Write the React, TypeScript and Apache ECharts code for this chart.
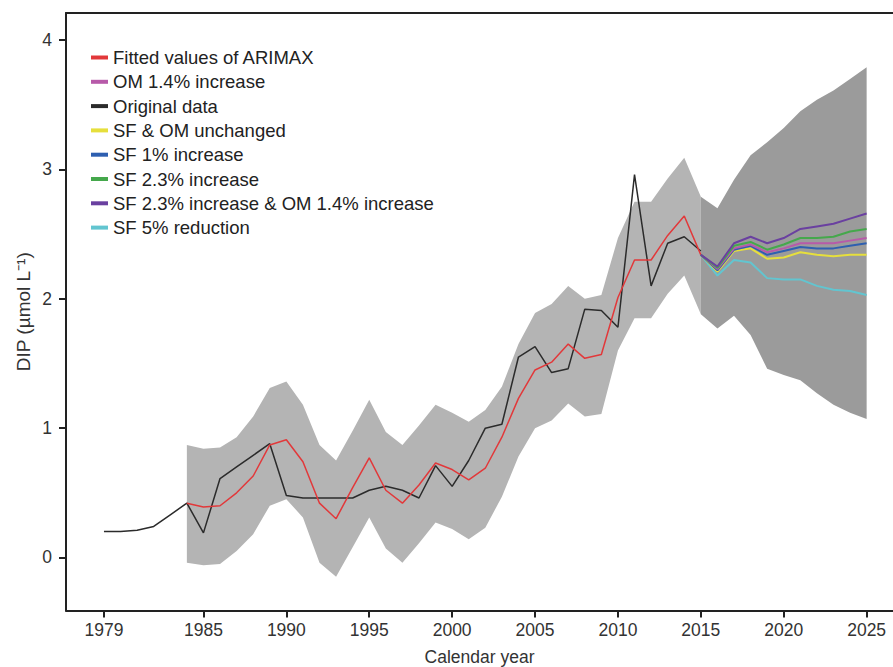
import React, { useEffect, useRef } from "react";
import * as echarts from "echarts";

const originalYears = [1979, 1980, 1981, 1982, 1983, 1984, 1985, 1986, 1987, 1988, 1989, 1990, 1991, 1992, 1993, 1994, 1995, 1996, 1997, 1998, 1999, 2000, 2001, 2002, 2003, 2004, 2005, 2006, 2007, 2008, 2009, 2010, 2011, 2012, 2013, 2014, 2015];
const originalData = [0.20, 0.20, 0.21, 0.24, 0.33, 0.42, 0.19, 0.61, 0.70, 0.79, 0.88, 0.48, 0.46, 0.46, 0.46, 0.46, 0.52, 0.55, 0.52, 0.46, 0.71, 0.55, 0.75, 1.00, 1.03, 1.55, 1.63, 1.43, 1.46, 1.92, 1.91, 1.78, 2.96, 2.10, 2.43, 2.48, 2.37];

const fittedYears = [1984, 1985, 1986, 1987, 1988, 1989, 1990, 1991, 1992, 1993, 1994, 1995, 1996, 1997, 1998, 1999, 2000, 2001, 2002, 2003, 2004, 2005, 2006, 2007, 2008, 2009, 2010, 2011, 2012, 2013, 2014, 2015];
const fittedData = [0.42, 0.39, 0.40, 0.50, 0.63, 0.87, 0.91, 0.74, 0.42, 0.30, 0.54, 0.77, 0.52, 0.42, 0.56, 0.73, 0.68, 0.60, 0.69, 0.93, 1.23, 1.45, 1.51, 1.65, 1.54, 1.57, 2.01, 2.30, 2.30, 2.49, 2.64, 2.34];
const fittedUpper = [0.87, 0.84, 0.85, 0.93, 1.09, 1.31, 1.36, 1.18, 0.87, 0.75, 0.98, 1.22, 0.97, 0.87, 1.02, 1.18, 1.12, 1.05, 1.14, 1.32, 1.65, 1.89, 1.96, 2.10, 2.00, 2.03, 2.47, 2.75, 2.75, 2.93, 3.09, 2.79];
const fittedLower = [-0.04, -0.06, -0.05, 0.05, 0.18, 0.40, 0.45, 0.31, -0.04, -0.15, 0.08, 0.31, 0.07, -0.04, 0.11, 0.27, 0.22, 0.14, 0.23, 0.47, 0.78, 1.00, 1.06, 1.19, 1.09, 1.11, 1.60, 1.85, 1.85, 2.04, 2.18, 1.88];

const forecastYears = [2015, 2016, 2017, 2018, 2019, 2020, 2021, 2022, 2023, 2024, 2025];
const forecastUpper = [2.79, 2.70, 2.92, 3.11, 3.21, 3.32, 3.45, 3.54, 3.61, 3.70, 3.79];
const forecastLower = [1.88, 1.77, 1.87, 1.72, 1.46, 1.41, 1.37, 1.27, 1.18, 1.12, 1.07];

const om14 = [2.34, 2.23, 2.39, 2.42, 2.36, 2.39, 2.43, 2.43, 2.43, 2.45, 2.47];
const unchanged = [2.34, 2.21, 2.37, 2.39, 2.31, 2.32, 2.36, 2.34, 2.33, 2.34, 2.34];
const sf1 = [2.34, 2.22, 2.38, 2.41, 2.34, 2.37, 2.40, 2.39, 2.39, 2.41, 2.43];
const sf23 = [2.34, 2.24, 2.41, 2.44, 2.38, 2.42, 2.47, 2.47, 2.48, 2.52, 2.54];
const sf23om14 = [2.34, 2.25, 2.43, 2.48, 2.43, 2.47, 2.54, 2.56, 2.58, 2.62, 2.66];
const sf5red = [2.34, 2.18, 2.30, 2.28, 2.16, 2.15, 2.15, 2.10, 2.07, 2.06, 2.03];

const xTicks = [1979, 1985, 1990, 1995, 2000, 2005, 2010, 2015, 2020, 2025];
const yTicks = [0, 1, 2, 3, 4];

const legendNames = [
  "Fitted values of ARIMAX",
  "OM 1.4% increase",
  "Original data",
  "SF & OM unchanged",
  "SF 1% increase",
  "SF 2.3% increase",
  "SF 2.3% increase & OM 1.4% increase",
  "SF 5% reduction",
];

const FONT = "'Liberation Sans', Arial, Helvetica, sans-serif";

function pairs(xs: number[], ys: number[]) {
  return xs.map((x, i) => [x, ys[i]]);
}

function bandSeries(name: string, xs: number[], lo: number[], hi: number[], fill: string) {
  const data = xs.map((x, i) => [x, lo[i], hi[i]]);
  return {
    type: "custom",
    name,
    silent: true,
    data,
    encode: { x: 0, y: [1, 2] },
    renderItem: (params: any, api: any) => {
      if (params.dataIndex !== 0) return { type: "group", children: [] };
      const top = xs.map((x, i) => api.coord([x, hi[i]]));
      const bottom = xs.map((x, i) => api.coord([x, lo[i]])).reverse();
      return {
        type: "polygon",
        shape: { points: top.concat(bottom) },
        style: { fill, stroke: null },
      };
    },
    z: 1,
  };
}

function lineSeries(name: string, xs: number[], ys: number[], color: string, width: number, z: number) {
  return {
    type: "line",
    name,
    data: pairs(xs, ys),
    color,
    showSymbol: false,
    symbol: "none",
    silent: true,
    lineStyle: { color, width },
    z,
  };
}

export default function App() {
  const ref = useRef<HTMLDivElement>(null);
  useEffect(() => {
    if (!ref.current) return;
    const chart = echarts.init(ref.current, null, { renderer: "svg" });
    const axisLineStyle = { color: "#222", width: 2 };
    chart.setOption({
      animation: false,
      backgroundColor: "#fff",
      textStyle: { fontFamily: FONT },
      grid: {
        left: 66,
        top: 13,
        right: 0,
        bottom: 56.5,
        containLabel: false,
        outerBoundsMode: "none",
      },
      legend: {
        data: legendNames,
        orient: "vertical",
        left: 86,
        top: 43,
        icon: "rect",
        itemWidth: 17,
        itemHeight: 4,
        itemGap: 5.3,
        selectedMode: false,
        textStyle: { fontFamily: FONT, fontSize: 18.5, color: "#222", lineHeight: 18 },
      },
      xAxis: [
        {
          type: "value",
          min: 1976.71,
          max: 2026.59,
          name: "Calendar year",
          nameLocation: "middle",
          nameGap: 37,
          nameMoveOverlap: false,
          nameTextStyle: { fontFamily: FONT, fontSize: 17.5, color: "#333" },
          axisLine: { show: true, onZero: false, lineStyle: axisLineStyle },
          axisTick: { show: true, length: 7, lineStyle: axisLineStyle, customValues: xTicks },
          axisLabel: {
            customValues: xTicks,
            formatter: (v: number) => String(v),
            fontFamily: FONT,
            fontSize: 17.5,
            color: "#333",
            margin: 10,
          },
          splitLine: { show: false },
        },
        {
          type: "value",
          position: "top",
          min: 1976.71,
          max: 2026.59,
          axisLine: { show: true, onZero: false, lineStyle: axisLineStyle },
          axisTick: { show: false },
          axisLabel: { show: false },
          splitLine: { show: false },
        },
      ],
      yAxis: {
        type: "value",
        min: -0.41,
        max: 4.21,
        name: "DIP (µmol L⁻¹)",
        nameLocation: "middle",
        nameRotate: 90,
        nameGap: 33,
        nameMoveOverlap: false,
        nameTextStyle: { fontFamily: FONT, fontSize: 19, color: "#333" },
        axisLine: { show: true, onZero: false, lineStyle: axisLineStyle },
        axisTick: { show: true, length: 7, lineStyle: axisLineStyle, customValues: yTicks },
        axisLabel: {
          customValues: yTicks,
          formatter: (v: number) => String(v),
          fontFamily: FONT,
          fontSize: 17.5,
          color: "#333",
          margin: 14,
        },
        splitLine: { show: false },
      },
      series: [
        bandSeries("Fitted interval", fittedYears, fittedLower, fittedUpper, "#b4b4b4"),
        bandSeries("Forecast interval", forecastYears, forecastLower, forecastUpper, "#9b9b9b"),
        lineSeries("Original data", originalYears, originalData, "#2b2b2b", 1.5, 3),
        lineSeries("Fitted values of ARIMAX", fittedYears, fittedData, "#e2383a", 1.5, 4),
        lineSeries("SF 5% reduction", forecastYears, sf5red, "#62c5d0", 2, 5),
        lineSeries("SF & OM unchanged", forecastYears, unchanged, "#e6df3c", 2, 5),
        lineSeries("SF 1% increase", forecastYears, sf1, "#2e5fb0", 2, 5),
        lineSeries("OM 1.4% increase", forecastYears, om14, "#b75aa9", 2, 5),
        lineSeries("SF 2.3% increase", forecastYears, sf23, "#45a84c", 2, 5),
        lineSeries("SF 2.3% increase & OM 1.4% increase", forecastYears, sf23om14, "#6a40a0", 2, 5),
      ],
    });
    return () => chart.dispose();
  }, []);
  return (
    <div
      ref={ref}
      style={{ position: "fixed", left: 0, top: 0, width: 893, height: 667 }}
    />
  );
}
